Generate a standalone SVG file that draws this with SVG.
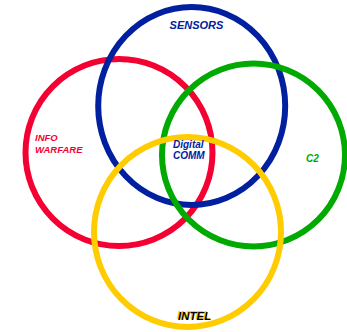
<svg xmlns="http://www.w3.org/2000/svg" width="347" height="332" viewBox="0 0 347 332">
<style>
.c{fill:none;stroke-width:6}
.t{font-family:"Liberation Sans",Arial,sans-serif;font-weight:bold;font-style:italic}
</style>
<rect width="347" height="332" fill="#fff"/>
<g id="info-warfare">
<circle class="c" cx="119" cy="152.5" r="93.5" stroke="#f50032"/>
<text class="t" font-size="9.5" fill="#f50032" x="35" y="141">INFO</text>
<text class="t" font-size="9.5" fill="#f50032" x="35" y="153">WARFARE</text>
</g>
<g id="sensors">
<ellipse class="c" cx="191.7" cy="106" rx="93.5" ry="99" stroke="#00209f"/>
<text class="t" font-size="11" fill="#00209f" x="196.5" y="29" text-anchor="middle">SENSORS</text>
</g>
<g id="c2">
<circle class="c" cx="253.5" cy="155" r="91.5" stroke="#00aa00"/>
<text class="t" font-size="10" fill="#00aa00" x="306" y="162">C2</text>
</g>
<g id="intel">
<ellipse class="c" cx="187.5" cy="232" rx="93.5" ry="95" stroke="#ffcc00"/>
<text class="t" font-size="11.5" fill="#ffcc00" x="177" y="318.5">INTEL</text>
<text class="t" font-size="11.5" fill="#000" x="178" y="319.5">INTEL</text>
</g>
<g id="digital-comm">
<text class="t" font-size="10" fill="#00209f" x="173" y="148">Digital</text>
<text class="t" font-size="10" fill="#00209f" x="173" y="159">COMM</text>
</g>
<g id="connectors"/>
</svg>
